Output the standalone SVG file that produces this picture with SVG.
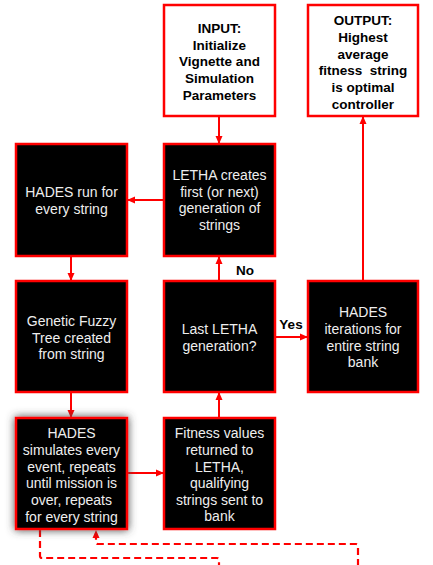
<svg xmlns="http://www.w3.org/2000/svg" width="433" height="565" viewBox="0 0 433 565">
<style>
.w{fill:#fff;stroke:#f00;stroke-width:2.5}
.b{fill:#000;stroke:#f00;stroke-width:2.5}
.tb{font-family:"Liberation Sans",Arial,sans-serif;font-size:13.5px;font-weight:bold;fill:#000;text-anchor:middle}
.tw{font-family:"Liberation Sans",Arial,sans-serif;font-size:14px;fill:#eee;text-anchor:middle}
.c{fill:none;stroke:#f00;stroke-width:2}
.d{fill:none;stroke:#f00;stroke-width:2.2;stroke-dasharray:7 4}
</style>
<defs>
<marker id="a" viewBox="0 0 8 8" refX="7" refY="4" markerWidth="8" markerHeight="8" markerUnits="userSpaceOnUse" orient="auto">
<path d="M0,0.5 L8,4 L0,7.5 Z" fill="#f00"/>
</marker>
<filter id="sh" x="-30%" y="-30%" width="160%" height="160%">
<feDropShadow dx="0" dy="0" stdDeviation="4" flood-color="#444" flood-opacity="1"/>
</filter>
</defs>
<g id="connectors">
<line class="c" x1="219" y1="116" x2="219" y2="143" marker-end="url(#a)"/>
<line class="c" x1="363" y1="281" x2="363" y2="117" marker-end="url(#a)"/>
<line class="c" x1="164" y1="200" x2="128" y2="200" marker-end="url(#a)"/>
<line class="c" x1="71" y1="256" x2="71" y2="280" marker-end="url(#a)"/>
<line class="c" x1="219" y1="281" x2="219" y2="257" marker-end="url(#a)"/>
<line class="c" x1="275" y1="337" x2="307" y2="337" marker-end="url(#a)"/>
<line class="c" x1="71" y1="392" x2="71" y2="417" marker-end="url(#a)"/>
<line class="c" x1="127" y1="473" x2="163" y2="473" marker-end="url(#a)"/>
<line class="c" x1="219" y1="418" x2="219" y2="393" marker-end="url(#a)"/>
<path class="d" d="M40,530 L40,556 Q40,558 42,558 L217,558 Q219,558 219,560 L219,566"/>
<path class="d" d="M358,566 L358,546 Q358,544 356,544 L98,544 Q96,544 96,542 L96,531" marker-end="url(#a)"/>
<text class="tb" x="245" y="275">No</text>
<text class="tb" x="291" y="329">Yes</text>
</g>
<g id="input">
<rect class="w" x="164" y="5" width="111" height="111"/>
<text class="tb" x="219.5"><tspan x="219.5" y="33">INPUT:</tspan><tspan x="219.5" y="49.5">Initialize</tspan><tspan x="219.5" y="66">Vignette and</tspan><tspan x="219.5" y="83">Simulation</tspan><tspan x="219.5" y="99.5">Parameters</tspan></text>
</g>
<g id="output">
<rect class="w" x="308" y="5" width="110" height="111"/>
<text class="tb" x="363" xml:space="preserve"><tspan x="363" y="25">OUTPUT:</tspan><tspan x="363" y="42">Highest</tspan><tspan x="363" y="58.5">average</tspan><tspan x="363" y="75" style="white-space:pre">fitness  string</tspan><tspan x="363" y="92">is optimal</tspan><tspan x="363" y="108.5">controller</tspan></text>
</g>
<g id="hades-run">
<rect class="b" x="16" y="144" width="111" height="112"/>
<text class="tw"><tspan x="71.5" y="197">HADES run for</tspan><tspan x="71.5" y="213.5">every string</tspan></text>
</g>
<g id="letha-creates">
<rect class="b" x="164" y="144" width="111" height="112"/>
<text class="tw"><tspan x="219.5" y="180">LETHA creates</tspan><tspan x="219.5" y="196.5">first (or next)</tspan><tspan x="219.5" y="213">generation of</tspan><tspan x="219.5" y="230">strings</tspan></text>
</g>
<g id="genetic-fuzzy">
<rect class="b" x="16" y="281" width="111" height="111"/>
<text class="tw"><tspan x="71.5" y="326">Genetic Fuzzy</tspan><tspan x="71.5" y="342.5">Tree created</tspan><tspan x="71.5" y="359">from string</tspan></text>
</g>
<g id="last-letha">
<rect class="b" x="164" y="281" width="111" height="111"/>
<text class="tw"><tspan x="219.5" y="334">Last LETHA</tspan><tspan x="219.5" y="351">generation?</tspan></text>
</g>
<g id="hades-iterations">
<rect class="b" x="308" y="281" width="110" height="111"/>
<text class="tw"><tspan x="363" y="317">HADES</tspan><tspan x="363" y="334">iterations for</tspan><tspan x="363" y="350.5">entire string</tspan><tspan x="363" y="367">bank</tspan></text>
</g>
<g id="hades-simulates">
<rect class="b" x="16" y="418" width="111" height="111" filter="url(#sh)"/>
<text class="tw"><tspan x="71.5" y="438">HADES</tspan><tspan x="71.5" y="455">simulates every</tspan><tspan x="71.5" y="471.5">event, repeats</tspan><tspan x="71.5" y="488">until mission is</tspan><tspan x="71.5" y="505">over, repeats</tspan><tspan x="71.5" y="521.5">for every string</tspan></text>
</g>
<g id="fitness">
<rect class="b" x="164" y="418" width="111" height="111"/>
<text class="tw"><tspan x="219.5" y="438">Fitness values</tspan><tspan x="219.5" y="455">returned to</tspan><tspan x="219.5" y="471.5">LETHA,</tspan><tspan x="219.5" y="488">qualifying</tspan><tspan x="219.5" y="505">strings sent to</tspan><tspan x="219.5" y="521">bank</tspan></text>
</g>
</svg>
